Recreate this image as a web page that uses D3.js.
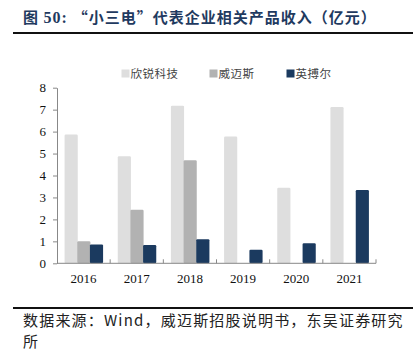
<!DOCTYPE html>
<html>
<head>
<meta charset="utf-8">
<script src="https://cdn.jsdelivr.net/npm/d3@7"></script>
<style>
  body { margin: 0; background: #fff; }
  svg { display: block; }
</style>
</head>
<body>
<svg id="drawing_region"></svg>
<script>
// chart data
const years = ['2016', '2017', '2018', '2019', '2020', '2021'];
const series = ['欣锐科技', '威迈斯', '英搏尔'];
const xinrui = [5.87, 4.88, 7.18, 5.78, 3.44, 7.12];
const weimaisi = [1.0, 2.44, 4.69, null, null, null];
const yingboer = [0.86, 0.83, 1.1, 0.62, 0.91, 3.34];
const yticks = [0, 1, 2, 3, 4, 5, 6, 7, 8];
const colors = ['#dedede', '#b2b2b2', '#1b3a5f'];

const values = [xinrui, weimaisi, yingboer];

const width = 413, height = 350;
const svg = d3.select('#drawing_region')
    .attr('width', width)
    .attr('height', height);

// title
const title = svg.append('text')
    .attr('x', 23)
    .attr('y', 23)
    .attr('fill', '#1f3a60')
    .attr('font-family', '"Noto Sans CJK SC", sans-serif')
    .attr('font-weight', 'bold')
    .attr('font-size', 15)
    .attr('letter-spacing', 1);
title.append('tspan').text('图 ');
title.append('tspan')
    .attr('font-family', '"Liberation Serif", serif')
    .attr('font-size', 16)
    .text('50: ');
title.append('tspan').text('“小三电”代表企业相关产品收入（亿元）');

svg.append('line')
    .attr('x1', 13).attr('x2', width)
    .attr('y1', 33).attr('y2', 33)
    .attr('stroke', '#111').attr('stroke-width', 2);

// plot area
const plotLeft = 57, plotRight = 376, plotTop = 87.7, plotBottom = 263.3;

const xscale = d3.scaleBand()
    .domain(years)
    .range([plotLeft, plotRight])
    .padding(0);

const xinner = d3.scaleBand()
    .domain(series)
    .range([-19, 19])
    .padding(0);

const yscale = d3.scaleLinear()
    .domain([0, 8])
    .range([plotBottom, plotTop]);

// bars
series.forEach((s, i) => {
    const rows = years.map((y, j) => ({year: y, value: values[i][j]}))
        .filter(d => d.value !== null);
    svg.append('g').selectAll('rect')
        .data(rows)
        .enter()
        .append('rect')
        .attr('x', d => xscale(d.year) + xscale.bandwidth() / 2 + xinner(s))
        .attr('width', xinner.bandwidth() + 0.5)
        .attr('y', d => yscale(d.value))
        .attr('height', d => yscale(0) - yscale(d.value))
        .attr('rx', 1.2)
        .attr('fill', colors[i]);
});

// y axis
const yaxis = d3.axisLeft(yscale)
    .tickValues(yticks)
    .tickFormat(d3.format('d'))
    .tickSize(4)
    .tickSizeOuter(0);

const yg = svg.append('g')
    .attr('transform', `translate(${plotLeft}, 0)`)
    .call(yaxis);
yg.select('.domain').attr('stroke', '#888');
yg.selectAll('.tick line').attr('stroke', '#888');
yg.selectAll('.tick text')
    .attr('x', -11)
    .attr('fill', '#111')
    .attr('font-family', '"Liberation Serif", serif')
    .attr('font-size', 13);

// x axis
svg.append('line')
    .attr('x1', plotLeft).attr('x2', plotRight)
    .attr('y1', plotBottom).attr('y2', plotBottom)
    .attr('stroke', '#888');

const bounds = years.slice(1).map(y => xscale(y)).concat([plotRight]);
svg.append('g').selectAll('line')
    .data(bounds)
    .enter()
    .append('line')
    .attr('x1', d => d).attr('x2', d => d)
    .attr('y1', plotBottom).attr('y2', plotBottom - 4)
    .attr('stroke', '#888');

svg.append('g').selectAll('text')
    .data(years)
    .enter()
    .append('text')
    .attr('x', d => xscale(d) + xscale.bandwidth() / 2)
    .attr('y', 283)
    .attr('text-anchor', 'middle')
    .attr('fill', '#111')
    .attr('font-family', '"Liberation Serif", serif')
    .attr('font-size', 13)
    .text(d => d);

// legend
const legendX = [121.5, 209.5, 286.5];
const legend = svg.append('g').selectAll('g')
    .data(series)
    .enter()
    .append('g')
    .attr('transform', (d, i) => `translate(${legendX[i]}, 69.5)`);
legend.append('rect')
    .attr('width', 8).attr('height', 8)
    .attr('fill', (d, i) => colors[i]);
legend.append('text')
    .attr('x', 9)
    .attr('y', 8)
    .attr('fill', '#444')
    .attr('font-family', '"Noto Sans CJK SC", sans-serif')
    .attr('font-size', 11.5)
    .attr('letter-spacing', 0.5)
    .text(d => d);

// source note
svg.append('line')
    .attr('x1', 13).attr('x2', width)
    .attr('y1', 308).attr('y2', 308)
    .attr('stroke', '#111').attr('stroke-width', 2);

const note = ['数据来源：Wind，威迈斯招股说明书，东吴证券研究', '所'];
svg.append('g').selectAll('text')
    .data(note)
    .enter()
    .append('text')
    .attr('x', 23)
    .attr('y', (d, i) => 326 + i * 21)
    .attr('fill', '#222')
    .attr('font-family', '"Noto Sans CJK SC", sans-serif')
    .attr('font-size', 15)
    .attr('letter-spacing', 1.2)
    .text(d => d);
</script>
</body>
</html>
